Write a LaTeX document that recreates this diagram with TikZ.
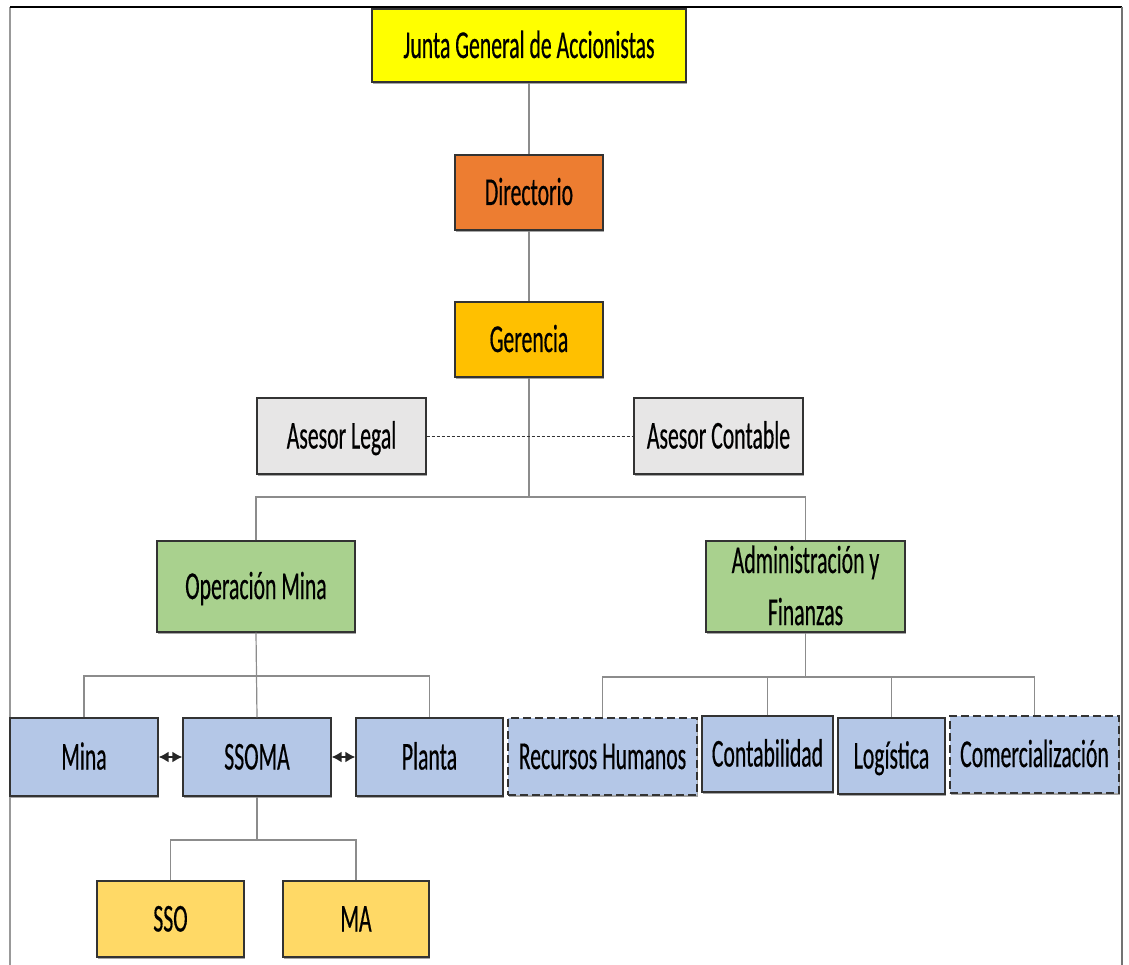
\documentclass[tikz,border=0pt]{standalone}
\usepackage{fontspec}
\usetikzlibrary{arrows.meta,shadows}
\newfontfamily\calfont[FakeStretch=0.55,FakeBold=0.4]{Carlito}
\definecolor{cJunta}{HTML}{FFFF00}
\definecolor{cDir}{HTML}{ED7D31}
\definecolor{cGer}{HTML}{FFC000}
\definecolor{cAse}{HTML}{E7E6E6}
\definecolor{cGreen}{HTML}{A9D18E}
\definecolor{cBlue}{HTML}{B4C7E7}
\definecolor{cSso}{HTML}{FFD966}
\definecolor{cBorder}{HTML}{333333}
\definecolor{cLine}{HTML}{8C8C8C}
\tikzset{
  box/.style={draw=cBorder, line width=1.4pt, inner sep=0pt, text=black,
    font=\calfont\fontsize{39.5}{52}\selectfont, text height=25pt, text depth=0pt,
    drop shadow={shadow xshift=1.2pt, shadow yshift=-1.8pt, fill=black, opacity=0.35}},
  dbox/.style={box, line width=1.6pt, dash pattern=on 8pt off 4pt},
  conn/.style={draw=cLine, line width=1.2pt},
  dconn/.style={draw=cBorder, line width=0.9pt, dash pattern=on 3pt off 2pt},
  biarrow/.style={draw=black!85, line width=1.5pt, {Latex[length=10pt,width=11pt]}-{Latex[length=10pt,width=11pt]}}
}
\begin{document}
\begin{tikzpicture}[x=1pt,y=-1pt]
\useasboundingbox (0,0) rectangle (1129,965);
% frame
\draw[draw=gray!80, line width=1.2pt] (10,965) -- (10,7);
\draw[draw=black, line width=1.2pt] (10,7) -- (1122,7);
\draw[draw=gray!90!black, line width=1.2pt] (1122,7) -- (1122,965);

% nodes
\node[box, fill=cJunta, minimum width=314pt, minimum height=73pt] (junta) at (529,45.5) {Junta General de Accionistas};
\node[box, fill=cDir, minimum width=148pt, minimum height=75pt] (dir) at (529,192.5) {Directorio};
\node[box, fill=cGer, minimum width=148pt, minimum height=75pt] (ger) at (529,339.5) {Gerencia};
\node[box, fill=cAse, minimum width=169pt, minimum height=76pt] (legal) at (341.5,436) {Asesor Legal};
\node[box, fill=cAse, minimum width=169pt, minimum height=76pt] (contable) at (718.5,436) {Asesor Contable};
\node[box, fill=cGreen, minimum width=198pt, minimum height=91pt] (opm) at (256,586.5) {Operación Mina};
\node[box, fill=cGreen, minimum width=199pt, minimum height=91pt, align=center, text height=77pt] (adm) at (805.5,586.5) {Administración y\\Finanzas};
\node[box, fill=cBlue, minimum width=148pt, minimum height=78pt] (mina) at (84,757) {Mina};
\node[box, fill=cBlue, minimum width=148pt, minimum height=78pt] (ssoma) at (257,757) {SSOMA};
\node[box, fill=cBlue, minimum width=147pt, minimum height=78pt] (planta) at (429.5,757) {Planta};
\node[dbox, fill=cBlue, minimum width=189pt, minimum height=77pt] (rh) at (602.5,756.5) {Recursos Humanos};
\node[box, fill=cBlue, minimum width=131pt, minimum height=76pt] (cont) at (767.5,754) {Contabilidad};
\node[box, fill=cBlue, minimum width=107pt, minimum height=76pt] (log) at (891.5,756) {Logística};
\node[dbox, fill=cBlue, minimum width=169pt, minimum height=77pt] (com) at (1034.5,754.5) {Comercialización};
\node[box, fill=cSso, minimum width=147pt, minimum height=76pt] (sso) at (170.5,919) {SSO};
\node[box, fill=cSso, minimum width=146pt, minimum height=76pt] (ma) at (356,919) {MA};

% junction coordinates
\coordinate (jg) at (529,497);
\coordinate (jo) at (256,676);
\coordinate (ja) at (805.5,677);
\coordinate (js) at (257,840);

% connectors
\draw[conn] (junta.south) -- (dir.north);
\draw[conn] (dir.south) -- (ger.north);
\draw[conn] (ger.south) -- (jg);
\draw[conn] (opm.north) |- (jg) -| (adm.north);
\draw[dconn] (legal.east) -- (contable.west);

\draw[conn] (opm.south) -- (ssoma.north);
\draw[conn] (mina.north) |- (jo) -| (planta.north);
\draw[conn] (ssoma.south) -- (js);
\draw[conn] (sso.north) |- (js) -| (ma.north);

\draw[conn] (adm.south) -- (ja);
\draw[conn] (rh.north) |- (ja) -| (com.north);
\draw[conn] (cont.north) -- (cont.north |- ja);
\draw[conn] (log.north) -- (log.north |- ja);

\draw[biarrow] (mina.east) -- (ssoma.west);
\draw[biarrow] (ssoma.east) -- (planta.west);
\end{tikzpicture}
\end{document}
